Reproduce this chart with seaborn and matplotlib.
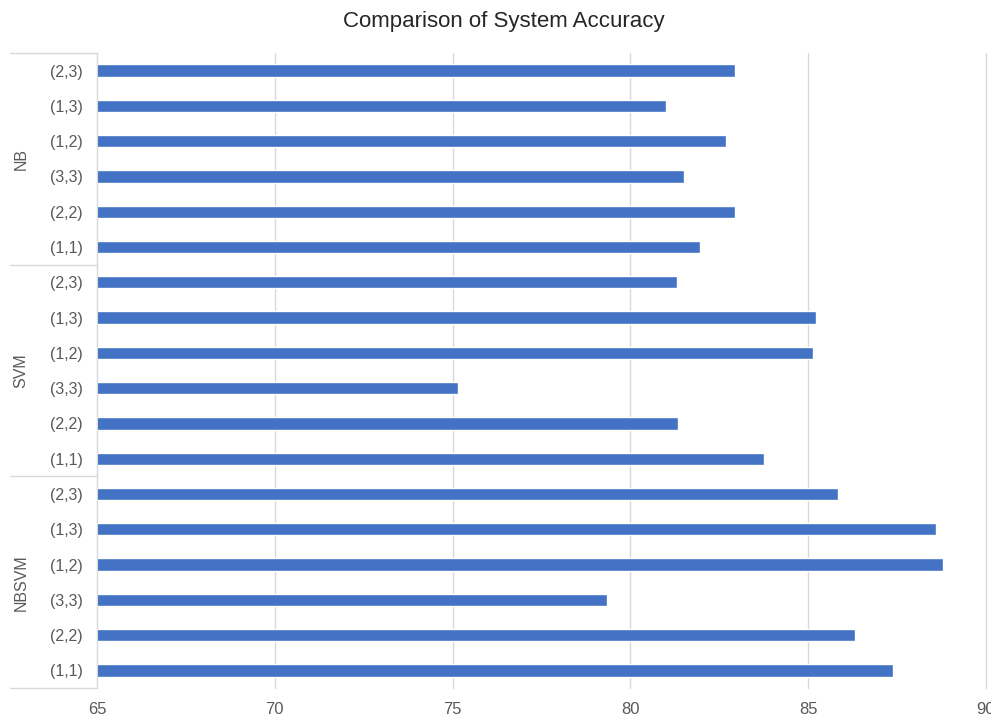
import numpy as np
import pandas as pd
import seaborn as sns
from matplotlib import pyplot as plt

# chart data, top bar first
groups = ['NB', 'SVM', 'NBSVM']
ngrams = ['(2,3)', '(1,3)', '(1,2)', '(3,3)', '(2,2)', '(1,1)']
acc_nb = [82.93, 81.0, 82.7, 81.5, 82.93, 81.96]
acc_svm = [81.31, 85.22, 85.14, 75.14, 81.35, 83.77]
acc_nbsvm = [85.83, 88.59, 88.8, 79.33, 86.33, 87.38]

sns.set_style('white')
plt.rcParams['font.family'] = ['Liberation Sans', 'DejaVu Sans']

rows = []
for g, vals in zip(groups, [acc_nb, acc_svm, acc_nbsvm]):
    for n, v in zip(ngrams, vals):
        rows.append({'key': g + ' ' + n, 'group': g, 'ngram': n, 'accuracy': v})
df = pd.DataFrame(rows)

fig = plt.figure(figsize=(9.91, 7.15), dpi=100)
ax = fig.add_axes([97/991, 1-688/715, (986-97)/991, (688-53)/715])

sns.barplot(data=df, y='key', x='accuracy', orient='h', color='#4472C4',
            width=0.35, saturation=1, ax=ax)

ax.set_xlim(65, 90)
ax.set_ylim(len(df) - 0.5, -0.5)
ax.set_xticks([65, 70, 75, 80, 85, 90])
ax.set_yticks(range(len(df)))
ax.set_yticklabels(df['ngram'])
ax.set_xlabel('')
ax.set_ylabel('')
ax.grid(axis='x', color='#d9d9d9', linewidth=1)
for gl in ax.get_xgridlines():
    gl.set_clip_on(False)
ax.set_axisbelow(True)
for s in ['top', 'right', 'bottom']:
    ax.spines[s].set_visible(False)
ax.spines['left'].set_color('#d9d9d9')
ax.tick_params(axis='y', length=0, colors='#595959', labelsize=11.5, pad=10)
ax.tick_params(axis='x', length=0, colors='#595959', labelsize=12, pad=10)

# group separators and group labels on the left
x0 = (10 - 97) / (986 - 97)
for k in range(len(groups) + 1):
    yb = k * len(ngrams) - 0.5
    ax.plot([x0, 0], [yb, yb], transform=ax.get_yaxis_transform(),
            color='#d9d9d9', lw=1, clip_on=False)
for k, g in enumerate(groups):
    yc = k * len(ngrams) + (len(ngrams) - 1) / 2
    ax.text((21 - 97) / (986 - 97), yc, g, transform=ax.get_yaxis_transform(),
            rotation=90, ha='center', va='center', color='#595959', fontsize=11.5)

fig.text(0.508, 1 - 22/715, 'Comparison of System Accuracy', ha='center', va='center',
         fontsize=16, color='#262626')

fig.savefig('out.png', dpi=100)
